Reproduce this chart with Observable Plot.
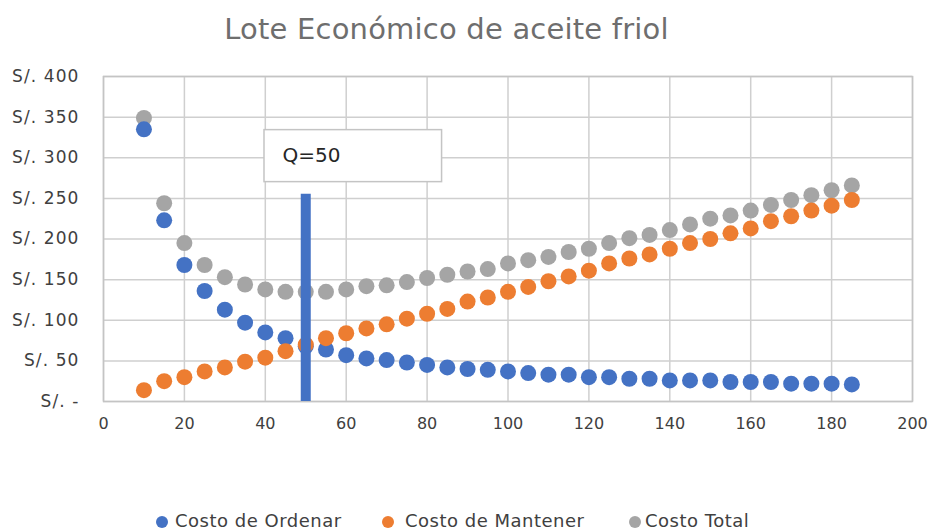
<!DOCTYPE html>
<html>
<head>
<meta charset="utf-8">
<script src="https://cdn.jsdelivr.net/npm/d3@7"></script>
<script src="https://cdn.jsdelivr.net/npm/@observablehq/plot@0.6"></script>
<style>
  html, body { margin: 0; padding: 0; background: #fff; }
  #wrap { position: relative; width: 931px; height: 532px; overflow: hidden; font-family: "DejaVu Sans", sans-serif; }
  #title { position: absolute; left: 0; width: 893px; top: 12px; text-align: center; font-size: 29px; color: #6e6e6e; letter-spacing: 0.2px; }
  .leg { position: absolute; top: 510px; font-size: 18px; letter-spacing: 0.5px; color: #404040; white-space: nowrap; }
  .dot { position: absolute; top: 516px; width: 12px; height: 12px; border-radius: 50%; }
  g[aria-label="y-axis tick label"] text { font-size: 17px; letter-spacing: 1.1px; }
</style>
</head>
<body>
<div id="wrap">
  <div id="title">Lote Económico de aceite friol</div>
  <div id="chart"></div>
</div>
<script>
const lotes = [10,15,20,25,30,35,40,45,50,55,60,65,70,75,80,85,90,95,100,105,110,115,120,125,130,135,140,145,150,155,160,165,170,175,180,185];
const costoOrdenar = [335,223,168,136,113,97,85,78,68,64,57,53,51,48,45,42,40,39,37,35,33,33,30,30,28,28,26,26,26,24,24,24,22,22,22,21];
const costoMantener = [14,25,30,37,42,49,54,62,70,78,84,90,95,102,108,114,123,128,135,141,148,154,161,170,176,181,188,195,200,207,213,222,228,235,241,248];
const costoTotal = [349,244,195,168,153,144,138,135,135,135,138,142,143,147,152,156,160,163,170,174,178,184,188,195,201,205,211,218,225,229,235,242,248,254,260,266];
const seriesNames = ["Costo de Ordenar", "Costo de Mantener", "Costo Total"];
const seriesColors = ["#4472C4", "#ED7D31", "#A5A5A5"];
const xTicks = [0,20,40,60,80,100,120,140,160,180,200];
const yTicks = [0,50,100,150,200,250,300,350,400];
const qOptimo = 50;
const qBarTop = 255;
const qLabel = "Q=50";
// annotation box extent in data units
const boxX = [39.8, 83.7];
const boxY = [270, 334];

const rows = [];
lotes.forEach((q, i) => {
  rows.push({q, v: costoTotal[i], s: seriesNames[2]});
});
lotes.forEach((q, i) => {
  rows.push({q, v: costoOrdenar[i], s: seriesNames[0]});
});
lotes.forEach((q, i) => {
  rows.push({q, v: costoMantener[i], s: seriesNames[1]});
});

const gridColor = "#CFCFCF";
const yFmt = d => d === 0 ? "S/. -" : "S/. " + d;
const chart = Plot.plot({
  width: 931,
  height: 532,
  marginLeft: 103,
  marginRight: 19,
  marginTop: 76,
  marginBottom: 131,
  style: { fontFamily: "DejaVu Sans, sans-serif", fontSize: "16px", color: "#404040", background: "transparent" },
  x: { domain: [0, 200], label: null },
  y: { domain: [0, 400], label: null },
  color: { domain: seriesNames, range: seriesColors },
  marks: [
    Plot.gridX(xTicks, { stroke: gridColor, strokeOpacity: 1, strokeWidth: 1.5 }),
    Plot.gridY(yTicks, { stroke: gridColor, strokeOpacity: 1, strokeWidth: 1.5 }),
    Plot.frame({ stroke: "#C4C4C4", strokeWidth: 1.5 }),
    Plot.dot(rows, { x: "q", y: "v", fill: "s", r: 8 }),
    Plot.ruleX([qOptimo], { y1: 0, y2: qBarTop, stroke: "#4472C4", strokeWidth: 10 }),
    Plot.rect([{}], { x1: boxX[0], x2: boxX[1], y1: boxY[0], y2: boxY[1], fill: "white", stroke: "#C4C4C4", strokeWidth: 1.5 }),
    Plot.text([qLabel], { x: boxX[0], y: (boxY[0] + boxY[1]) / 2, text: d => d, dx: 18, dy: -1, textAnchor: "start", fontSize: 20, fill: "#262626" }),
    Plot.axisX({ ticks: xTicks, tickSize: 0, tickPadding: 16 }),
    Plot.axisY({ ticks: yTicks, tickSize: 0, tickPadding: 24, tickFormat: yFmt })
  ]
});
chart.style.position = "absolute";
chart.style.left = "0px";
chart.style.top = "0px";
document.getElementById("chart").appendChild(chart);

const dotPos = [156, 382, 629];
const textPos = [175, 405, 645];
const wrap = document.getElementById("wrap");
seriesNames.forEach((n, i) => {
  const dot = document.createElement("div");
  dot.className = "dot";
  dot.style.left = dotPos[i] + "px";
  dot.style.background = seriesColors[i];
  wrap.appendChild(dot);
  const d = document.createElement("div");
  d.className = "leg";
  d.style.left = textPos[i] + "px";
  d.textContent = n;
  wrap.appendChild(d);
});
</script>
</body>
</html>
